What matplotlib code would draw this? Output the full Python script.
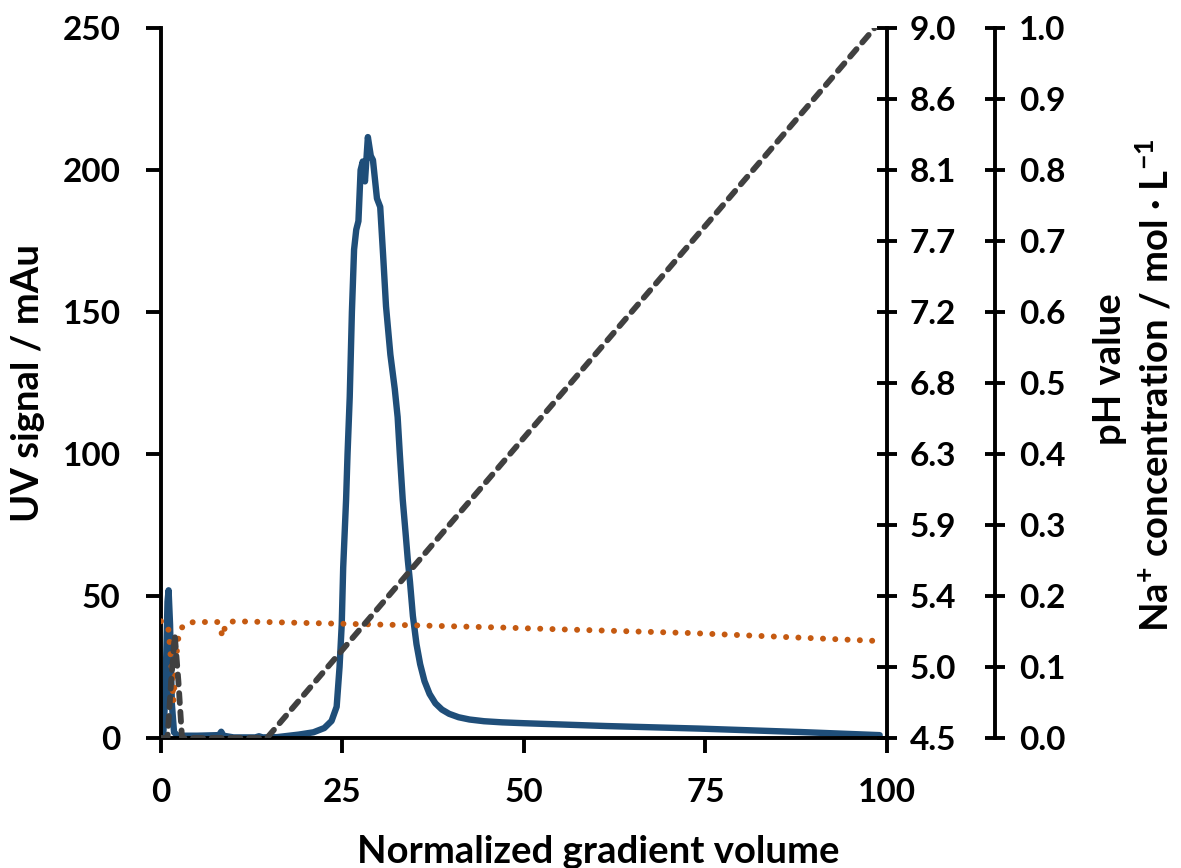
import numpy as np
import matplotlib
matplotlib.use("Agg")
import matplotlib.pyplot as plt

plt.rcParams['font.family'] = ['Lato', 'DejaVu Sans']
plt.rcParams['font.weight'] = 'bold'
plt.rcParams['mathtext.fontset'] = 'custom'
plt.rcParams['mathtext.rm'] = 'Lato:bold'
plt.rcParams['mathtext.it'] = 'Lato:bold'
plt.rcParams['mathtext.bf'] = 'Lato:bold'

# UV signal (mAu) vs normalized gradient volume
uv_x = [0, 0.3, 0.6, 0.9, 1.05, 1.25, 1.5, 1.8, 2.3, 5, 8.0, 8.3, 8.6, 10, 13, 13.5, 14, 16, 19, 21,
        22.5, 23.5, 24.2, 24.6, 24.9, 25.1, 25.5, 25.7, 26.0, 26.3, 26.6, 26.9, 27.2, 27.5, 27.8,
        28.1, 28.5, 28.9, 29.2, 29.75, 30.2, 30.6, 31.0, 31.6, 32.2, 32.6, 32.9, 33.3, 33.7, 34.0,
        34.3, 34.7, 35.2, 35.7, 36.3, 37.0, 37.8, 38.7, 39.7, 41.0, 42.5, 44.5, 47.0, 50.0, 61.4,
        74.2, 88, 99]
uv_y = [0, 0.5, 15, 48, 52, 40, 12, 2, 0.8, 0.8, 1.0, 2.2, 0.8, 0.2, 0.2, 0.6, 0.2, 0.3, 1.2, 2,
        3.5, 6, 11, 25, 40, 60, 84, 100, 120, 150, 172, 179, 182, 200, 203,
        196, 211.6, 205, 203.5, 190, 187, 170, 152, 135, 123, 113, 100, 84, 72, 62.7,
        55, 43, 33, 26, 20, 15.5, 12.2, 10, 8.5, 7.3, 6.5, 5.9, 5.5, 5.2, 4.2,
        3.3, 2.1, 1.0]

# pH value
ph_x = [0, 0.6, 1.0, 1.2, 1.45, 1.7, 1.9, 2.1, 2.3, 2.6, 3.2, 4.5, 7.8, 8.2, 8.5, 8.9, 10, 19, 34,
        47, 54, 73, 86, 98.6]
ph_y = [5.24, 5.23, 5.20, 5.10, 4.95, 4.73, 4.85, 5.0, 5.11, 5.18, 5.22, 5.235, 5.235, 5.19, 5.14,
        5.22, 5.24, 5.23, 5.215, 5.20, 5.19, 5.165, 5.14, 5.115]

# Na+ concentration (mol/L)
na_x = [0, 0.9, 1.4, 1.9, 2.4, 2.9, 3.5, 14.6, 98.3]
na_y = [0, 0, 0.08, 0.145, 0.08, 0, 0, 0, 1.0]

ph_ticks = np.linspace(4.5, 9.0, 11)
ph_ticklabels = ["4.5", "5.0", "5.4", "5.9", "6.3", "6.8", "7.2", "7.7", "8.1", "8.6", "9.0"]

fig = plt.figure(figsize=(11.81, 8.68), dpi=100)
ax = fig.add_axes([0.1363, 0.1498, 0.6147, 0.8179])
ax2 = ax.twinx()
ax3 = ax.twinx()

fs = 24
fs_lab = 27.5
lw_sp = 2.8

ax.plot(uv_x, uv_y, color='#1F4E79', lw=4.6, solid_joinstyle='round', solid_capstyle='round')
ax2.plot(ph_x, ph_y, color='#C55A11', lw=4.3, linestyle=(0, (0.01, 2.05)), dash_capstyle='round')
ax3.plot(na_x, na_y, color='#404040', lw=4.2, linestyle=(0, (1.7, 1.5)), dash_capstyle='round')

ax.set_xlim(0, 100)
ax.set_ylim(0, 250)
ax.set_xticks([0, 25, 50, 75, 100])
ax.set_yticks([0, 50, 100, 150, 200, 250])
ax2.set_ylim(4.5, 9.0)
ax2.set_yticks(ph_ticks)
ax2.set_yticklabels(ph_ticklabels)
ax3.set_ylim(0, 1.0)
ax3.set_yticks(np.linspace(0, 1.0, 11))
ax3.set_yticklabels(["%.1f" % v for v in np.linspace(0, 1.0, 11)])

for a in (ax, ax2, ax3):
    for s in a.spines.values():
        s.set_visible(False)
        s.set_linewidth(lw_sp)

ax.spines['left'].set_visible(True)
ax.spines['bottom'].set_visible(True)
ax2.spines['right'].set_visible(True)
ax3.spines['right'].set_visible(True)
ax3.spines['right'].set_position(('axes', (995 - 161) / 726))

ax.tick_params(axis='both', direction='out', length=11, width=lw_sp, labelsize=fs)
ax.tick_params(axis='y', pad=18)
ax.tick_params(axis='x', pad=18)
ax2.tick_params(axis='y', direction='inout', length=15, width=lw_sp, labelsize=fs, pad=9)
ax3.tick_params(axis='y', direction='inout', length=15, width=lw_sp, labelsize=fs, pad=10)

ax.set_xlabel("Normalized gradient volume", fontsize=fs_lab, fontweight='bold')
ax.xaxis.set_label_coords(0.603, -0.137)
ax.set_ylabel("UV signal / mAu", fontsize=fs_lab, fontweight='bold')
ax.yaxis.set_label_coords(-0.183, 0.5)
ax2.set_ylabel("pH value", fontsize=fs_lab, fontweight='bold')
ax2.yaxis.set_label_coords((1110 - 161) / 726, 0.52, transform=ax2.transAxes)
ax3.set_ylabel("Na$^{+}$ concentration / mol · L$^{-1}$", fontsize=fs_lab, fontweight='bold')
ax3.yaxis.set_label_coords((1155 - 161) / 726, 0.497, transform=ax3.transAxes)
ax2.yaxis.label.set_va('center')
ax3.yaxis.label.set_va('center')
ax.yaxis.label.set_va('center')

fig.savefig("out.png", dpi=100)
